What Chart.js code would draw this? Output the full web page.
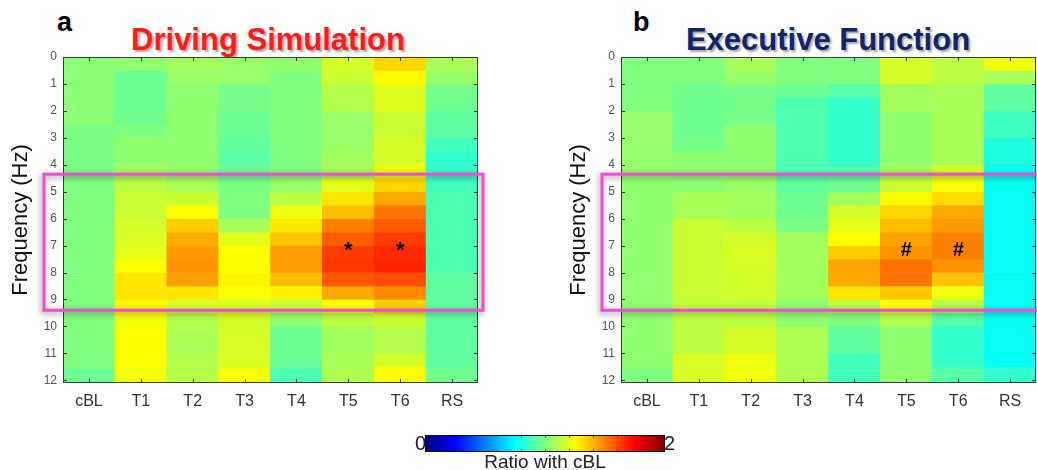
<!DOCTYPE html>
<html>
<head>
<meta charset="utf-8">
<script src="https://cdn.jsdelivr.net/npm/chart.js@4.4.1/dist/chart.umd.min.js"></script>
<style>
  body { margin: 0; background: #fff; font-family: "Liberation Sans", Arial, sans-serif; }
  #page { position: relative; width: 1037px; height: 470px; overflow: hidden; }
  canvas { position: absolute; }
  .title { position: absolute; top: 24px; font-weight: bold; font-size: 31px; line-height: 31px;
           text-align: center; white-space: nowrap; text-shadow: 2px 2px 2px rgba(0,0,0,0.35); }
  .letter { position: absolute; top: 9px; font-weight: bold; font-size: 27px; line-height: 27px; color: #000; }
</style>
</head>
<body>
<div id="page">
  <div class="letter" style="left:57px">a</div>
  <div class="letter" style="left:633px">b</div>
  <div class="title" style="left:68px;width:400px;color:#ff1a1a">Driving Simulation</div>
  <div class="title" style="left:628px;width:400px;color:#13246a">Executive Function</div>
  <canvas id="drive" width="490" height="420" style="left:0;top:0"></canvas>
  <canvas id="exec" width="479" height="420" style="left:558px;top:0"></canvas>
  <canvas id="cbar" width="320" height="50" style="left:380px;top:420px"></canvas>
</div>
<script>
// --- data (ratio with cBL), one array per condition, rows of 0.5 Hz from 0 Hz down to 12 Hz
const categories = ['cBL', 'T1', 'T2', 'T3', 'T4', 'T5', 'T6', 'RS'];
const rowStarts = [0, 0.5, 1, 1.5, 2, 2.5, 3, 3.5, 4, 4.5, 5, 5.5, 6, 6.5, 7, 7.5, 8, 8.5, 9, 9.5, 10, 10.5, 11, 11.5, 12];
const rowHeight = 0.5;
const yTicks = [0, 1, 2, 3, 4, 5, 6, 7, 8, 9, 10, 11, 12];
const highlightBand = [4.35, 9.4];
const colorRange = [0, 2];
const cbarTicks = [0.2, 0.4, 0.6, 0.8, 1.0, 1.2, 1.4, 1.6, 1.8];

// Driving Simulation
const drvCBL = [1.02,1.02,1.02,1.02,1.02,0.99,0.99,0.99,0.99,1.0,1.0,1.0,1.0,1.0,1.0,1.0,1.0,1.0,1.0,1.0,1.0,1.0,1.0,0.96,0.96];
const drvT1  = [1.03,0.96,0.96,0.96,0.97,1.0,1.03,1.03,1.07,1.12,1.15,1.15,1.17,1.18,1.2,1.25,1.3,1.3,1.26,1.23,1.25,1.25,1.25,1.22,1.22];
const drvT2  = [1.07,1.05,1.03,1.03,1.03,1.03,1.03,1.03,1.04,1.08,1.15,1.25,1.35,1.41,1.45,1.46,1.44,1.3,1.17,1.1,1.09,1.08,1.1,1.1,1.1];
const drvT3  = [1.05,1.05,0.98,0.98,0.96,0.96,0.94,0.93,0.96,0.99,1.0,1.0,1.08,1.2,1.25,1.25,1.27,1.24,1.18,1.17,1.17,1.18,1.18,1.24,1.24];
const drvT4  = [1.03,1.0,1.0,1.0,1.0,1.0,1.0,1.0,1.0,1.05,1.12,1.22,1.29,1.36,1.44,1.44,1.38,1.27,1.15,1.03,0.96,0.96,0.96,0.9,0.9];
const drvT5  = [1.17,1.15,1.1,1.1,1.05,1.05,1.05,1.07,1.08,1.2,1.3,1.38,1.5,1.57,1.63,1.64,1.58,1.42,1.25,1.12,1.07,1.07,1.08,1.09,1.09];
const drvT6  = [1.33,1.26,1.19,1.19,1.15,1.15,1.17,1.17,1.22,1.33,1.42,1.52,1.57,1.63,1.67,1.68,1.6,1.48,1.34,1.15,1.1,1.1,1.17,1.25,1.25];
const drvRS  = [1.08,1.05,0.98,0.97,0.94,0.93,0.88,0.85,0.85,0.88,0.9,0.9,0.9,0.9,0.9,0.9,0.94,0.94,0.94,0.94,0.94,0.94,0.94,0.97,0.97];

// Executive Function
const exeCBL = [1.0,1.0,1.0,1.0,1.04,1.04,1.04,1.04,1.04,1.03,1.03,1.03,1.03,1.03,1.03,1.03,1.03,1.03,1.03,1.03,1.03,1.03,1.03,1.0,1.0];
const exeT1  = [1.0,1.0,0.97,0.97,0.97,0.97,0.98,1.03,1.03,1.03,1.08,1.08,1.15,1.15,1.15,1.15,1.15,1.15,1.13,1.12,1.12,1.12,1.18,1.18,1.18];
const exeT2  = [1.08,1.05,0.98,0.98,0.98,1.03,1.03,1.03,1.03,1.05,1.07,1.07,1.12,1.17,1.18,1.17,1.16,1.16,1.12,1.12,1.17,1.17,1.22,1.22,1.22];
const exeT3  = [1.0,1.0,0.96,0.9,0.9,0.9,0.9,0.9,0.9,0.94,0.97,0.97,0.99,1.07,1.07,1.07,1.07,1.07,1.03,1.03,1.09,1.09,1.09,1.09,1.09];
const exeT4  = [1.0,1.0,0.92,0.85,0.85,0.85,0.85,0.85,0.9,0.97,1.07,1.17,1.2,1.25,1.35,1.43,1.42,1.3,1.12,1.0,0.94,0.94,0.88,0.88,0.88];
const exeT5  = [1.17,1.17,1.07,1.07,1.03,1.03,1.03,1.03,1.07,1.15,1.26,1.33,1.38,1.43,1.46,1.53,1.52,1.36,1.25,1.1,1.03,1.03,1.03,1.03,1.03];
const exeT6  = [1.12,1.12,1.08,1.08,1.08,1.08,1.08,1.08,1.17,1.24,1.32,1.42,1.45,1.5,1.5,1.46,1.37,1.22,1.1,0.92,0.85,0.85,0.85,0.92,0.92];
const exeRS  = [1.22,1.08,0.94,0.94,0.87,0.87,0.81,0.81,0.77,0.77,0.77,0.77,0.77,0.77,0.77,0.77,0.77,0.77,0.77,0.77,0.77,0.77,0.77,0.85,0.85];

const drivingColumns = [drvCBL, drvT1, drvT2, drvT3, drvT4, drvT5, drvT6, drvRS];
const executiveColumns = [exeCBL, exeT1, exeT2, exeT3, exeT4, exeT5, exeT6, exeRS];

// significance marks
const drivingMarkCols = ['T5', 'T6'];
const drivingMarkFreq = 7;
const executiveMarkCols = ['T5', 'T6'];
const executiveMarkFreq = 7.2;

Chart.defaults.font.family = '"Liberation Sans", Arial, sans-serif';

// MATLAB style jet colormap
function jet(v) {
    const t = Math.min(1, Math.max(0, (v - colorRange[0]) / (colorRange[1] - colorRange[0])));
    const c = x => Math.round(255 * Math.min(1, Math.max(0, x)));
    const r = c(1.5 - Math.abs(4 * t - 3));
    const g = c(1.5 - Math.abs(4 * t - 2));
    const b = c(1.5 - Math.abs(4 * t - 1));
    return `rgb(${r},${g},${b})`;
}

function buildDatasets(columns) {
    return rowStarts.map((f, i) => ({
        data: columns.map(() => [f, f + rowHeight]),
        backgroundColor: columns.map(col => jet(col[i])),
        borderWidth: 0,
        borderSkipped: false,
        grouped: false,
        barPercentage: 1,
        categoryPercentage: 1
    }));
}

const panelDecor = {
    id: 'panelDecor',
    afterDatasetsDraw(chart, args, opts) {
        const { ctx, chartArea: a, scales: { x, y } } = chart;
        ctx.save();

        // significance markers
        ctx.fillStyle = '#000';
        ctx.font = opts.markFont;
        ctx.textAlign = 'center';
        ctx.textBaseline = 'middle';
        opts.markCols.forEach(c => {
            ctx.fillText(opts.markText, x.getPixelForValue(categories.indexOf(c)), y.getPixelForValue(opts.markFreq) + opts.markShift);
        });

        // axes box with inward ticks
        ctx.strokeStyle = '#3a3a3a';
        ctx.lineWidth = 1;
        ctx.strokeRect(a.left + 0.5, a.top + 0.5, a.width - 1, a.height - 1);
        ctx.beginPath();
        categories.forEach((c, i) => {
            const px = Math.round(x.getPixelForValue(i)) + 0.5;
            ctx.moveTo(px, a.bottom); ctx.lineTo(px, a.bottom - 4);
            ctx.moveTo(px, a.top); ctx.lineTo(px, a.top + 4);
        });
        yTicks.forEach(v => {
            const py = Math.round(y.getPixelForValue(v)) + 0.5;
            ctx.moveTo(a.left, py); ctx.lineTo(a.left + 4, py);
            ctx.moveTo(a.right, py); ctx.lineTo(a.right - 4, py);
        });
        ctx.stroke();

        // highlighted theta band
        const top = y.getPixelForValue(highlightBand[0]);
        const bottom = y.getPixelForValue(highlightBand[1]);
        ctx.shadowColor = 'rgba(0,0,0,0.45)';
        ctx.shadowBlur = 6;
        ctx.shadowOffsetX = -1;
        ctx.shadowOffsetY = 2;
        ctx.strokeStyle = '#f04ed8';
        ctx.lineWidth = 3;
        ctx.strokeRect(a.left - 19, top, a.width + 24, bottom - top);
        ctx.restore();
    }
};

function heatmap(canvasId, columns, rightPad, marks) {
    return new Chart(document.getElementById(canvasId), {
        type: 'bar',
        data: { labels: categories, datasets: buildDatasets(columns) },
        plugins: [panelDecor],
        options: {
            responsive: false,
            animation: false,
            layout: { padding: { top: 57, right: rightPad, left: 0, bottom: 0 } },
            plugins: {
                legend: { display: false },
                tooltip: { enabled: false },
                panelDecor: marks
            },
            scales: {
                x: {
                    grid: { display: false, drawTicks: false },
                    border: { display: false },
                    ticks: { color: '#333', font: { size: 16 }, padding: 9 },
                    afterFit: s => { s.height = 37; }
                },
                y: {
                    type: 'linear',
                    reverse: true,
                    min: 0,
                    max: 12.1,
                    grid: { display: false, drawTicks: false },
                    border: { display: false },
                    ticks: { color: '#555', font: { size: 12 }, padding: 6 },
                    afterBuildTicks: s => { s.ticks = yTicks.map(v => ({ value: v })); },
                    afterFit: s => { s.width = 63; },
                    title: {
                        display: true,
                        text: 'Frequency (Hz)',
                        color: '#111',
                        font: { size: 22 },
                        padding: { top: 8, bottom: 0 }
                    }
                }
            }
        }
    });
}

heatmap('drive', drivingColumns, 12, {
    markCols: drivingMarkCols, markFreq: drivingMarkFreq, markText: '*',
    markFont: 'bold 22px "Liberation Sans", Arial, sans-serif', markShift: 5
});
heatmap('exec', executiveColumns, 1, {
    markCols: executiveMarkCols, markFreq: executiveMarkFreq, markText: '#',
    markFont: 'bold 20px "Liberation Sans", Arial, sans-serif', markShift: 0
});

// colour bar
const colorBar = {
    id: 'colorBar',
    afterDraw(chart) {
        const { ctx, chartArea: a, scales: { x } } = chart;
        const x0 = x.getPixelForValue(colorRange[0]);
        const x1 = x.getPixelForValue(colorRange[1]);
        const grad = ctx.createLinearGradient(x0, 0, x1, 0);
        [0, 0.25, 0.75, 1.25, 1.75, 2].forEach(v => grad.addColorStop((v - colorRange[0]) / (colorRange[1] - colorRange[0]), jet(v)));
        ctx.save();
        ctx.fillStyle = grad;
        ctx.fillRect(x0, a.top, x1 - x0, a.height);
        ctx.strokeStyle = 'rgba(40,40,40,0.6)';
        ctx.lineWidth = 1;
        ctx.beginPath();
        cbarTicks.forEach(v => {
            const px = Math.round(x.getPixelForValue(v)) + 0.5;
            ctx.moveTo(px, a.top); ctx.lineTo(px, a.top + 3);
            ctx.moveTo(px, a.bottom); ctx.lineTo(px, a.bottom - 3);
        });
        ctx.stroke();
        ctx.strokeStyle = '#111';
        ctx.strokeRect(x0 + 0.5, a.top + 0.5, x1 - x0 - 1, a.height - 1);

        ctx.fillStyle = '#222';
        ctx.font = '20px "Liberation Sans", Arial, sans-serif';
        ctx.textBaseline = 'middle';
        ctx.textAlign = 'right';
        ctx.fillText(String(colorRange[0]), x0 + 1, (a.top + a.bottom) / 2 + 1);
        ctx.textAlign = 'left';
        ctx.fillText(String(colorRange[1]), x1 - 1, (a.top + a.bottom) / 2 + 1);
        ctx.font = '19px "Liberation Sans", Arial, sans-serif';
        ctx.textAlign = 'center';
        ctx.textBaseline = 'alphabetic';
        ctx.fillText('Ratio with cBL', x.getPixelForValue(1) + 0, 48);
        ctx.restore();
    }
};

new Chart(document.getElementById('cbar'), {
    type: 'scatter',
    data: { datasets: [{ data: [] }] },
    plugins: [colorBar],
    options: {
        responsive: false,
        animation: false,
        layout: { padding: { left: 45, right: 35, top: 15, bottom: 18 } },
        plugins: { legend: { display: false }, tooltip: { enabled: false } },
        scales: {
            x: { type: 'linear', min: colorRange[0], max: colorRange[1], display: false },
            y: { display: false }
        }
    }
});
</script>
</body>
</html>
